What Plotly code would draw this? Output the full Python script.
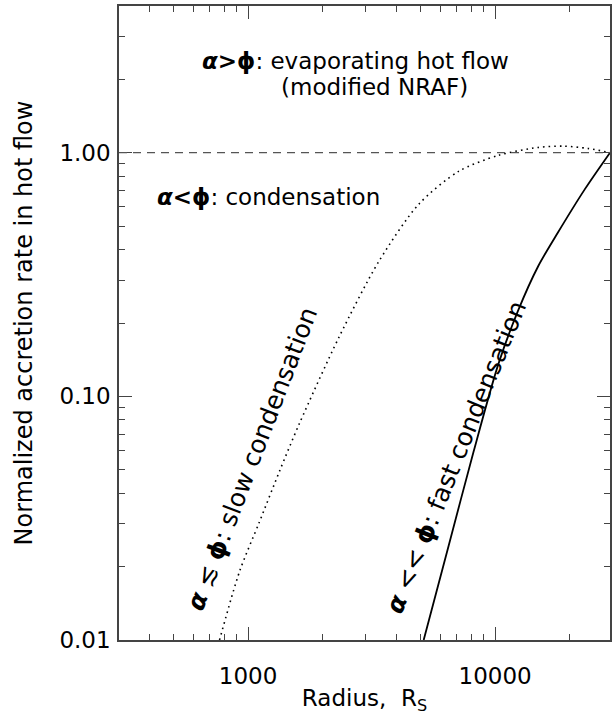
import math
import plotly.graph_objects as go

# ---- data (radius in R_S, normalized accretion rate) ----
fast_radius = [5139, 6482, 8176, 10310, 12416, 14945, 17995, 23070, 29200]
fast_rate = [0.0100, 0.0243, 0.0591, 0.1356, 0.2258, 0.342, 0.4714, 0.707, 1.000]

slow_radius = [766, 923, 1111, 1337, 1610, 2334, 3383, 4906, 7112, 10310,
               14945, 18860, 23780, 29200]
slow_rate = [0.0100, 0.0191, 0.0305, 0.0490, 0.0770, 0.175, 0.358, 0.614, 0.838,
             0.975, 1.051, 1.064, 1.041, 1.000]

reference_level = 1.0

x_range = [300, 29200]
y_range = [0.01, 4.0]

FONT = "DejaVu Sans"
AX = "#444444"

fig = go.Figure()
fig.add_trace(go.Scatter(x=slow_radius, y=slow_rate, mode="lines",
                         line=dict(color="black", width=1.6, dash="1.6px,4px",
                                   shape="spline", smoothing=0.8),
                         showlegend=False, hoverinfo="skip"))
fig.add_trace(go.Scatter(x=fast_radius, y=fast_rate, mode="lines",
                         line=dict(color="black", width=1.8,
                                   shape="spline", smoothing=0.8),
                         showlegend=False, hoverinfo="skip"))
fig.add_hline(y=reference_level, line=dict(color="#555555", width=1.3, dash="8px,6px"))

axis_common = dict(
    type="log", showgrid=False, zeroline=False,
    showline=True, linecolor=AX, linewidth=1.5, mirror="allticks",
    ticks="inside", ticklen=13, tickwidth=1.2, tickcolor=AX,
    tickmode="linear", tick0=0, dtick=1,
    tickfont=dict(family=FONT, size=23, color="black"),
    minor=dict(ticks="inside", ticklen=6, tickwidth=1.2, tickcolor=AX,
               dtick="D1", showgrid=False),
)

fig.update_xaxes(**axis_common,
                 range=[math.log10(x_range[0]), math.log10(x_range[1])],
                 tickformat="d",
                 ticklabelstandoff=15,
                 title=dict(text="Radius,  R<sub>S</sub>",
                            font=dict(family=FONT, size=23, color="black"),
                            standoff=8))
fig.update_yaxes(**axis_common,
                 range=[math.log10(y_range[0]), math.log10(y_range[1])],
                 tickformat=".2f",
                 ticklabelstandoff=2,
                 title=dict(text="Normalized accretion rate in hot flow",
                            font=dict(family=FONT, size=24, color="black"),
                            standoff=20))

ann_font = dict(family=FONT, size=23, color="black")
rot_font = dict(family=FONT, size=25, color="black")
annotations = [
    dict(text="<b><i>α</i>&gt;ϕ</b>: evaporating hot flow", x=0.481, y=0.913,
         xanchor="center", yanchor="middle", font=ann_font),
    dict(text="(modified NRAF)", x=0.521, y=0.872, xanchor="center", yanchor="middle",
         font=ann_font),
    dict(text="<b><i>α</i>&lt;ϕ</b>: condensation", x=0.073, y=0.698,
         xanchor="left", yanchor="middle", font=ann_font),
    dict(text="<b><i>α</i></b> ≲ <b>ϕ</b>: slow condensation", x=0.270, y=0.285,
         xanchor="center", yanchor="middle", textangle=-69, font=rot_font),
    dict(text="<b><i>α</i></b> &lt;&lt; <b>ϕ</b>: fast condensation", x=0.686, y=0.288,
         xanchor="center", yanchor="middle", textangle=-68, font=rot_font),
]
for a in annotations:
    fig.add_annotation(xref="paper", yref="paper", showarrow=False, **a)

fig.update_layout(
    width=614, height=715,
    margin=dict(l=119, r=2, t=6, b=74),
    paper_bgcolor="white", plot_bgcolor="white",
    font=dict(family=FONT, color="black"),
)

fig.write_html("out.html", config={"displayModeBar": False},
               post_script="document.body.style.margin='0';")
